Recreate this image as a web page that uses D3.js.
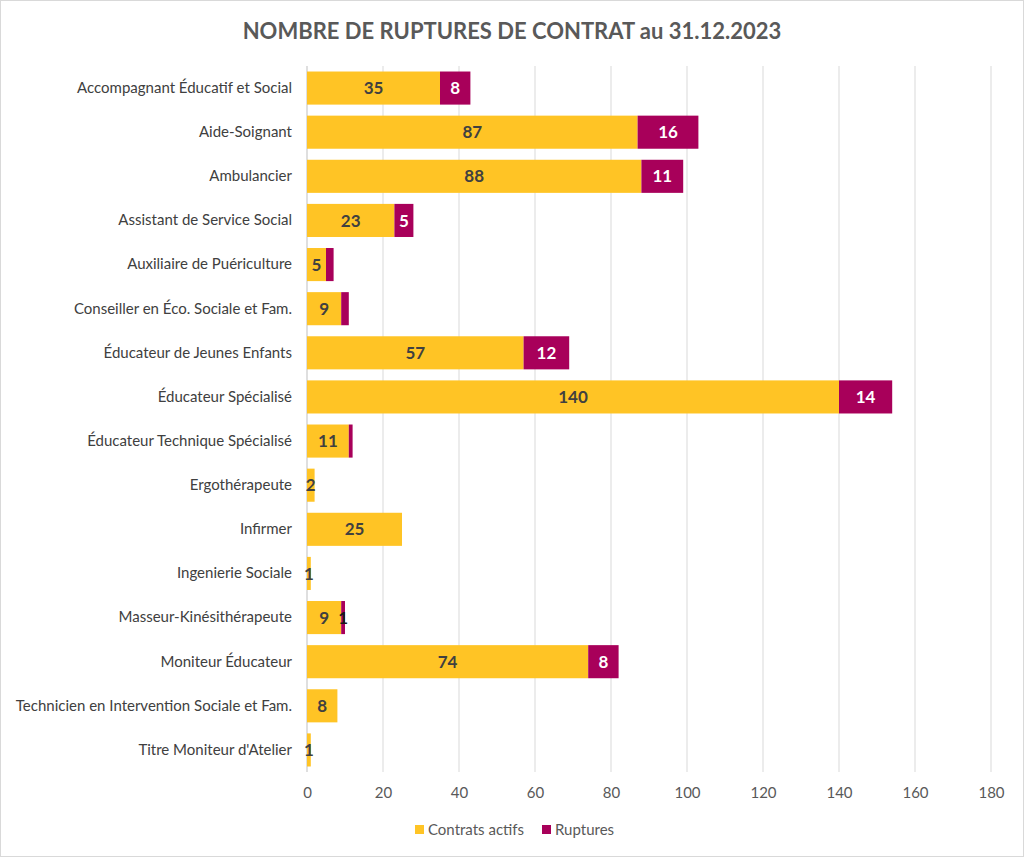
<!DOCTYPE html>
<html><head><meta charset="utf-8">
<script src="https://cdn.jsdelivr.net/npm/d3@7"></script>
<style>body{margin:0;background:#fff}svg{display:block}text{font-family:Lato,"Open Sans",sans-serif}</style>
</head><body>
<script>
const categories = ["Accompagnant Éducatif et Social","Aide-Soignant","Ambulancier","Assistant de Service Social","Auxiliaire de Puériculture","Conseiller en Éco. Sociale et Fam.","Éducateur de Jeunes Enfants","Éducateur Spécialisé","Éducateur Technique Spécialisé","Ergothérapeute","Infirmer","Ingenierie Sociale","Masseur-Kinésithérapeute","Moniteur Éducateur","Technicien en Intervention Sociale et Fam.","Titre Moniteur d'Atelier"];
const actifs = [35,87,88,23,5,9,57,140,11,2,25,1,9,74,8,1];
const ruptures = [8,16,11,5,2,2,12,14,1,0,0,0,1,8,0,0];
const ruptureLabelShown = [true,true,true,true,false,false,true,true,false,false,false,false,true,true,false,false];
const ticks = [0,20,40,60,80,100,120,140,160,180];
const seriesNames = ["Contrats actifs","Ruptures"];
const colors = ["#FFC425","#A8005A"];

const W=1024,H=857;
const svg=d3.select("body").append("svg").attr("width",W).attr("height",H);
svg.append("rect").attr("x",0.5).attr("y",0.5).attr("width",W-1).attr("height",H-1).attr("fill","#fff").attr("stroke","#d9d9d9");
const x=d3.scaleLinear().domain([0,180]).range([307,991]);
const y=d3.scaleBand().domain(categories).range([66,772]).paddingInner(0.25).paddingOuter(0.125);

svg.append("text").attr("x",512).attr("y",39).attr("text-anchor","middle").attr("font-size",22).attr("font-weight","bold").attr("fill","#595959").text("NOMBRE DE RUPTURES DE CONTRAT au 31.12.2023");

svg.append("g").selectAll("line").data(ticks.slice(1)).join("line")
 .attr("x1",d=>x(d)).attr("x2",d=>x(d)).attr("y1",66).attr("y2",772).attr("stroke","#d9d9d9");
svg.append("line").attr("x1",x(0)).attr("x2",x(0)).attr("y1",66).attr("y2",772).attr("stroke","#bfbfbf");

const ax=svg.append("g").attr("transform","translate(0,772)").call(d3.axisBottom(x).tickValues(ticks).tickSize(0).tickPadding(15));
ax.select(".domain").remove();
ax.selectAll("text").attr("font-size",15).attr("fill","#595959").style("font-family","Lato,'Open Sans',sans-serif");

const ay=svg.append("g").attr("transform","translate(307,0)").call(d3.axisLeft(y).tickSize(0).tickPadding(15));
ay.select(".domain").remove();
ay.selectAll("text").attr("font-size",15).attr("fill","#404040").style("font-family","Lato,'Open Sans',sans-serif");

const g=svg.append("g");
g.selectAll("rect.a").data(categories).join("rect").attr("class","a")
 .attr("x",x(0)).attr("y",d=>y(d)).attr("height",y.bandwidth()).attr("width",(d,i)=>x(actifs[i])-x(0)).attr("fill",colors[0]);
g.selectAll("rect.r").data(categories).join("rect").attr("class","r")
 .attr("x",(d,i)=>x(actifs[i])).attr("y",d=>y(d)).attr("height",y.bandwidth()).attr("width",(d,i)=>x(actifs[i]+ruptures[i])-x(actifs[i])).attr("fill",colors[1]);

g.selectAll("text.la").data(categories).join("text").attr("class","la")
 .attr("x",(d,i)=>(x(0)+x(actifs[i]))/2).attr("y",d=>y(d)+y.bandwidth()/2).attr("dy","0.36em")
 .attr("text-anchor","middle").attr("font-size",17).attr("font-weight","bold").attr("fill","#404040").text((d,i)=>actifs[i]);
g.selectAll("text.lr").data(categories.filter((d,i)=>ruptureLabelShown[i])).join("text").attr("class","lr")
 .attr("x",d=>{const i=categories.indexOf(d);return (x(actifs[i])+x(actifs[i]+ruptures[i]))/2;})
 .attr("y",d=>y(d)+y.bandwidth()/2).attr("dy","0.36em")
 .attr("text-anchor","middle").attr("font-size",17).attr("font-weight","bold")
 .attr("fill",d=>{const i=categories.indexOf(d);return ruptures[i]<2?"#1a1a1a":"#fff";})
 .text(d=>ruptures[categories.indexOf(d)]);

const leg=svg.append("g").attr("transform","translate(0,830)");
const items=[{n:seriesNames[0],c:colors[0],x:415},{n:seriesNames[1],c:colors[1],x:542}];
items.forEach(it=>{
 leg.append("rect").attr("x",it.x).attr("y",-5).attr("width",9).attr("height",9).attr("fill",it.c);
 leg.append("text").attr("x",it.x+13).attr("y",0).attr("dy","0.35em").attr("font-size",15).attr("fill","#595959").text(it.n);
});
</script>
</body></html>
